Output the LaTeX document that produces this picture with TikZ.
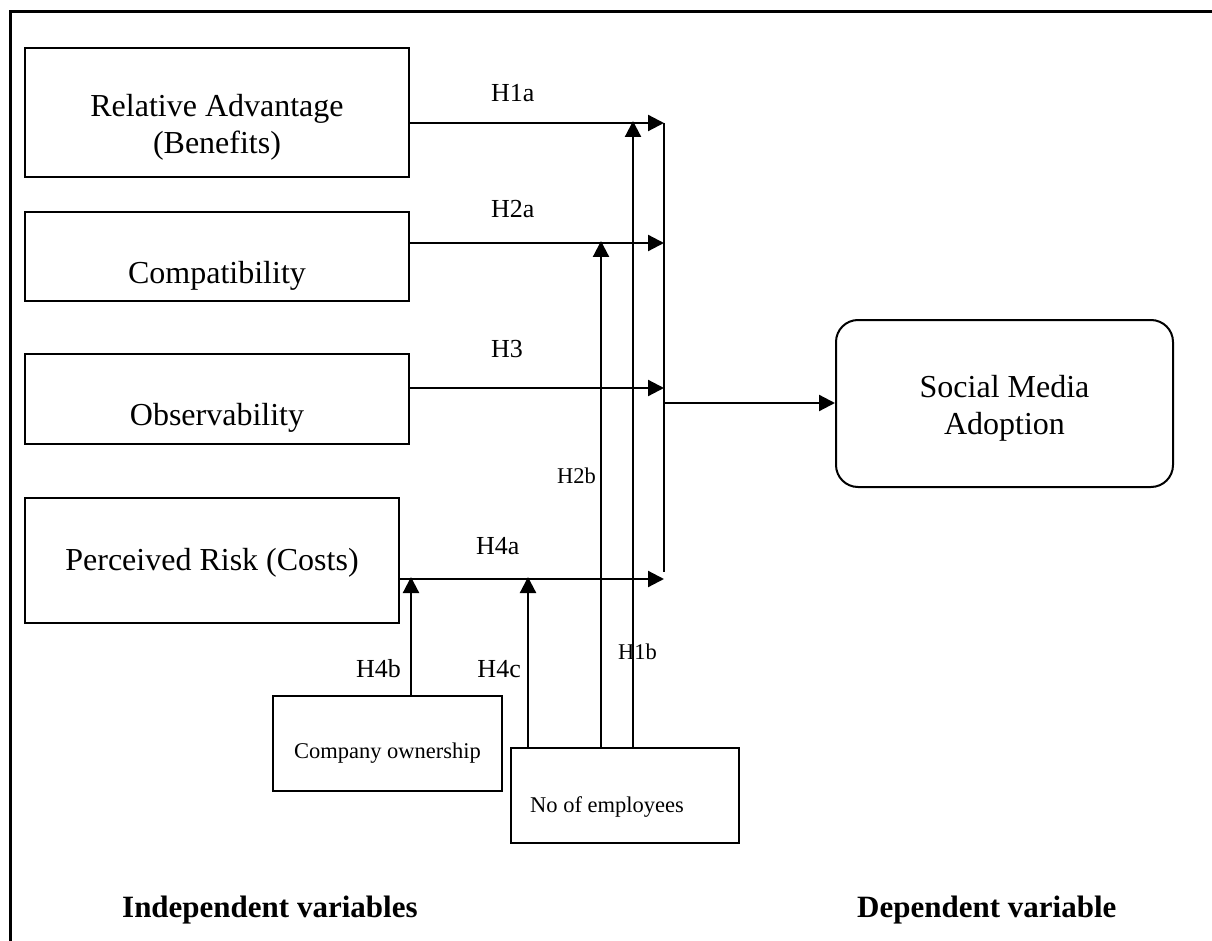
\documentclass[tikz,border=0pt]{standalone}
\usepackage{fontspec}
\setmainfont{Liberation Serif}
\usetikzlibrary{arrows.meta}
\begin{document}
\begin{tikzpicture}[x=1pt,y=-1pt,
  box/.style={draw,line width=2pt,inner sep=0pt},
  big/.style={font=\fontsize{32}{37}\selectfont,align=center},
  mid/.style={font=\fontsize{26}{30}\selectfont,inner sep=0pt},
  small/.style={font=\fontsize{22.5}{26}\selectfont,inner sep=0pt},
  head/.style={font=\fontsize{31}{36}\selectfont\bfseries,inner sep=0pt},
  wire/.style={line width=2.2pt},
  arr/.style={line width=2.2pt,-{Triangle[length=16pt,width=16pt]}}]
\useasboundingbox (0,0) rectangle (1212,941);

% outer frame (top and left edges)
\draw[line width=3pt] (10,941) -- (10,12) -- (1212,12);

% independent variables
\node[box,minimum width=384pt,minimum height=129pt,
  label={[big,yshift=-15pt]center:Relative Advantage\\(Benefits)}] (ra) at (217,112.5) {};
\node[box,minimum width=384pt,minimum height=89pt,
  label={[big,yshift=-19pt]center:Compatibility}] (cp) at (217,256.5) {};
\node[box,minimum width=384pt,minimum height=90pt,
  label={[big,yshift=-19pt]center:Observability}] (ob) at (217,399) {};
\node[box,minimum width=374pt,minimum height=125pt,
  label={[big,yshift=-2pt]center:Perceived Risk (Costs)}] (pr) at (212,560.5) {};

% moderators
\node[box,minimum width=229pt,minimum height=95pt,
  label={[small,yshift=-10pt]center:Company ownership}] (co) at (387.5,743.5) {};
\node[box,minimum width=228pt,minimum height=95pt,
  label={[small,anchor=west,xshift=20pt,yshift=-11pt]west:No of employees}] (ne) at (625,795.5) {};

% dependent variable
\node[box,rounded corners=22pt,minimum width=337pt,minimum height=167pt,
  label={[big,yshift=-5pt]center:Social Media\\Adoption}] (sm) at (1004.5,403.5) {};

% junction points on the collecting bar
\coordinate (j1) at (664,123);
\coordinate (j2) at (664,243);
\coordinate (j3) at (664,388);
\coordinate (j4) at (664,579);
\coordinate (jend) at (664,572);
\coordinate (jout) at (664,403);

% direct effects
\draw[arr] (ra.east |- j1) -- (j1);
\draw[arr] (cp.east |- j2) -- (j2);
\draw[arr] (ob.east |- j3) -- (j3);
\draw[arr] (pr.east |- j4) -- (j4);
\draw[wire] (j1) -- (jend);
\draw[arr] (jout) -- (sm.west |- jout);

% moderating effects
\coordinate (m1) at (633,121);
\coordinate (m2) at (601,241);
\coordinate (m3) at (528,577);
\coordinate (m4) at (411,577);
\draw[arr] (ne.north -| m1) -- (m1);
\draw[arr] (ne.north -| m2) -- (m2);
\draw[arr] (ne.north -| m3) -- (m3);
\draw[arr] (co.north -| m4) -- (m4);

% path labels
\node[mid,anchor=base west] (l1a) at (491,102) {H1a};
\node[mid,anchor=base west] (l2a) at (491,218) {H2a};
\node[mid,anchor=base west] (l3) at (491,357) {H3};
\node[mid,anchor=base west] (l4a) at (476,554) {H4a};
\node[small,anchor=base west] (l2b) at (557,483) {H2b};
\node[small,anchor=base west] (l1b) at (618,659) {H1b};
\node[mid,anchor=base east] (l4b) at (401,677) {H4b};
\node[mid,anchor=base east] (l4c) at (521,677) {H4c};

% group captions
\node[head,anchor=base west] (iv) at (122,917) {Independent variables};
\node[head,anchor=base west] (dv) at (857,917) {Dependent variable};
\end{tikzpicture}
\end{document}
